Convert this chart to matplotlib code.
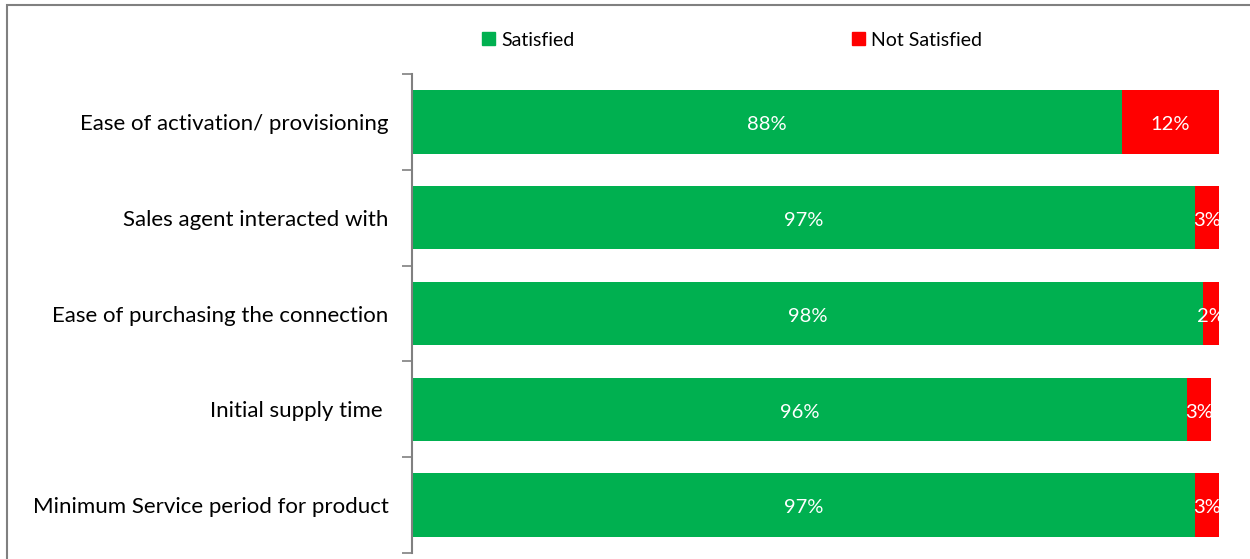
import matplotlib
matplotlib.use("Agg")
import matplotlib.pyplot as plt
from matplotlib.patches import Rectangle

plt.rcParams['font.family'] = ['Lato', 'DejaVu Sans']

categories = [
    "Ease of activation/ provisioning",
    "Sales agent interacted with",
    "Ease of purchasing the connection",
    "Initial supply time ",
    "Minimum Service period for product",
]
satisfied = [88, 97, 98, 96, 97]
not_satisfied = [12, 3, 2, 3, 3]
series_names = ["Satisfied", "Not Satisfied"]
colors = ["#00B050", "#FF0000"]

W, H = 1250, 559
fig = plt.figure(figsize=(W / 100, H / 100), dpi=100)

# outer chart frame (extends past right and bottom edges)
fig.patches.append(Rectangle((6.5 / W, -0.05), 1.1, (H - 4.5) / H + 0.05,
                             transform=fig.transFigure, fill=False,
                             edgecolor="#808080", linewidth=1.5))

ax = fig.add_axes([412 / W, (H - 553) / H, (1219 - 412) / W, (553 - 74) / H])

ypos = list(range(len(categories)))
bh = 0.66
ax.barh(ypos, satisfied, height=bh, color=colors[0], label=series_names[0])
ax.barh(ypos, not_satisfied, left=satisfied, height=bh, color=colors[1],
        label=series_names[1])

for y, s, n in zip(ypos, satisfied, not_satisfied):
    ax.text(s / 2, y + 0.03, f"{s}%", ha="center", va="center", color="white", fontsize=14.5)
    ax.text(s + n / 2, y + 0.03, f"{n}%", ha="center", va="center", color="white", fontsize=14.5)

ax.set_xlim(0, 100)
ax.set_ylim(len(categories) - 0.5, -0.5)
ax.set_yticks([i - 0.5 for i in range(len(categories) + 1)])
ax.set_yticklabels([])
ax.set_yticks(ypos, minor=True)
ax.set_yticklabels(categories, minor=True, fontsize=16)
ax.tick_params(axis="y", which="minor", length=0, pad=17)
ax.tick_params(axis="y", which="major", length=7, color="#808080", width=1.2)
ax.set_xticks([])
for side in ["top", "right", "bottom"]:
    ax.spines[side].set_visible(False)
ax.spines["left"].set_color("#808080")
ax.spines["left"].set_linewidth(1.5)

handles = [Rectangle((0, 0), 1, 1, color=c) for c in colors]
leg = fig.legend(handles, series_names, loc="center", ncol=2, frameon=False,
                 bbox_to_anchor=(732 / W, 1 - 40 / H), fontsize=14,
                 handlelength=0.65, handleheight=0.65, handletextpad=0.3,
                 columnspacing=14.3)

fig.savefig("out.png", dpi=100)
